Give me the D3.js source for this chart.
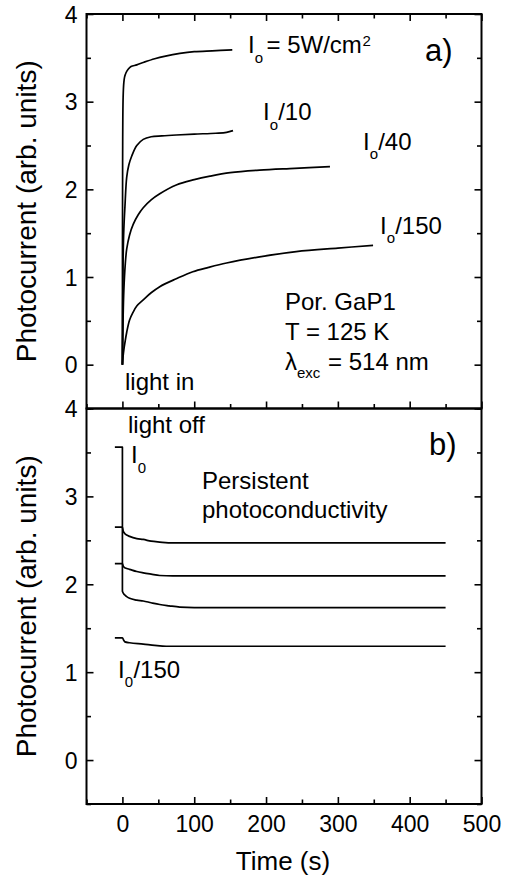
<!DOCTYPE html>
<html>
<head>
<meta charset="utf-8">
<script src="https://cdn.jsdelivr.net/npm/d3@7"></script>
<style>
  html, body { margin: 0; padding: 0; background: #fff; }
  svg { display: block; }
  text { font-family: "Liberation Sans", Arial, sans-serif; fill: #000; }
</style>
</head>
<body>
<svg id="chart" width="507" height="878"></svg>
<script>
// Tick values
const xTickValues = [0, 100, 200, 300, 400, 500];
const xMinorValues = [-50, 50, 150, 250, 350, 450];
const yTickValues = [0, 1, 2, 3, 4];
const yMinorValues = [-0.5, 0.5, 1.5, 2.5, 3.5];

// Panel a): photocurrent rise after the light is switched on (time in s)
const riseT_I0 = [0, 0.3, 1, 2, 3, 5, 8, 12, 20, 30, 45, 60, 80, 100, 125, 153];
const riseV_I0 = [0, 2.3, 3.05, 3.22, 3.28, 3.33, 3.37, 3.40, 3.42, 3.45, 3.49, 3.52, 3.55, 3.57, 3.58, 3.59];
const riseT_I10 = [0, 1, 2, 3.5, 6, 9, 13, 20, 29, 40, 55, 75, 100, 130, 145, 154];
const riseV_I10 = [0, 1.2, 1.55, 1.8, 2.14, 2.28, 2.38, 2.5, 2.57, 2.6, 2.61, 2.62, 2.63, 2.64, 2.65, 2.67];
const riseT_I40 = [0, 1, 2, 4, 6, 10, 15, 22, 29, 40, 52, 75, 100, 122, 150, 191, 240, 289];
const riseV_I40 = [0, 0.55, 0.85, 1.15, 1.32, 1.48, 1.6, 1.71, 1.79, 1.88, 1.95, 2.05, 2.11, 2.15, 2.19, 2.22, 2.24, 2.26];
const riseT_I150 = [0, 1, 2, 3.5, 6, 10, 15, 20, 29, 40, 52, 75, 98, 120, 145, 191, 242, 300, 349];
const riseV_I150 = [0, 0.1, 0.17, 0.25, 0.37, 0.51, 0.6, 0.67, 0.74, 0.82, 0.89, 0.98, 1.06, 1.11, 1.16, 1.23, 1.29, 1.33, 1.36];

// Panel b): decay after the light is switched off at t = 0
const decayT_I0 = [-10.5, 0, 0, 3, 6, 10, 20, 29, 40, 52, 65, 80, 100, 200, 300, 450];
const decayV_I0 = [3.56, 3.56, 1.92, 1.88, 1.86, 1.84, 1.82, 1.81, 1.79, 1.77, 1.755, 1.74, 1.735, 1.735, 1.735, 1.735];
const decayT_I10 = [-10.5, 0, 1, 3, 6, 10, 20, 29, 40, 52, 70, 100, 200, 450];
const decayV_I10 = [2.65, 2.65, 2.61, 2.58, 2.56, 2.545, 2.52, 2.51, 2.49, 2.48, 2.47, 2.47, 2.47, 2.47];
const decayT_I40 = [-10.5, 0, 1, 3, 6, 10, 20, 29, 40, 52, 70, 100, 450];
const decayV_I40 = [2.235, 2.235, 2.21, 2.19, 2.18, 2.17, 2.145, 2.13, 2.115, 2.10, 2.095, 2.095, 2.095];
const decayT_I150 = [-10.5, 0, 2, 3.5, 10, 29, 45, 61, 100, 450];
const decayV_I150 = [1.39, 1.39, 1.36, 1.345, 1.335, 1.32, 1.305, 1.295, 1.295, 1.295];

const zip = (t, v) => t.map((d, i) => ({ t: d, v: v[i] }));
const riseSeries = [zip(riseT_I0, riseV_I0), zip(riseT_I10, riseV_I10), zip(riseT_I40, riseV_I40), zip(riseT_I150, riseV_I150)];
const decaySeries = [zip(decayT_I0, decayV_I0), zip(decayT_I10, decayV_I10), zip(decayT_I40, decayV_I40), zip(decayT_I150, decayV_I150)];

const svg = d3.select("#chart");
const left = 86.5, right = 481.5;
const panels = [
  { top: 14, bottom: 408.5, series: riseSeries, first: true, curve: d3.curveCatmullRom.alpha(0.5) },
  { top: 408.5, bottom: 804, series: decaySeries, first: false, curve: d3.curveMonotoneX }
];

const x = d3.scaleLinear().domain([-50, 500]).range([left, right]);
const MAJ = 7, MIN = 4.5;
const tickFont = 23;

function styleAxis(g) {
  g.select(".domain").remove();
  g.selectAll(".tick line").attr("stroke", "#000").attr("stroke-width", 1.6);
  g.selectAll("text").attr("font-size", tickFont).attr("font-family", "Liberation Sans, Arial, sans-serif").attr("fill", "#000");
}

panels.forEach(p => {
  const y = d3.scaleLinear().domain([-0.5, 4]).range([p.bottom, p.top]);
  const g = svg.append("g");

  // left axis
  g.append("g").attr("transform", `translate(${left},0)`)
    .call(d3.axisLeft(y).tickValues(yTickValues).tickSize(-MAJ).tickPadding(9).tickFormat(d3.format("d")))
    .call(styleAxis)
    .call(a => a.selectAll("text").attr("dy", "0.35em"));
  g.append("g").attr("transform", `translate(${left},0)`)
    .call(d3.axisLeft(y).tickValues(yMinorValues).tickSize(-MIN).tickFormat(""))
    .call(styleAxis);
  // right axis
  g.append("g").attr("transform", `translate(${right},0)`)
    .call(d3.axisRight(y).tickValues(yTickValues).tickSize(-MAJ).tickFormat(""))
    .call(styleAxis);
  g.append("g").attr("transform", `translate(${right},0)`)
    .call(d3.axisRight(y).tickValues(yMinorValues).tickSize(-MIN).tickFormat(""))
    .call(styleAxis);

  // horizontal axes
  if (p.first) {
    g.append("g").attr("transform", `translate(0,${p.top})`)
      .call(d3.axisTop(x).tickValues(xTickValues).tickSize(-MAJ).tickFormat(""))
      .call(styleAxis);
    g.append("g").attr("transform", `translate(0,${p.top})`)
      .call(d3.axisTop(x).tickValues(xMinorValues).tickSize(-MIN).tickFormat(""))
      .call(styleAxis);
    g.append("g").attr("transform", `translate(0,${p.bottom})`)
      .call(d3.axisBottom(x).tickValues(xTickValues).tickSize(-MAJ).tickFormat(""))
      .call(styleAxis);
    g.append("g").attr("transform", `translate(0,${p.bottom})`)
      .call(d3.axisBottom(x).tickValues(xMinorValues).tickSize(-MIN).tickFormat(""))
      .call(styleAxis);
  } else {
    g.append("g").attr("transform", `translate(0,${p.bottom})`)
      .call(d3.axisBottom(x).tickValues(xTickValues).tickSize(-MAJ).tickPadding(12).tickFormat(d3.format("d")))
      .call(styleAxis);
    g.append("g").attr("transform", `translate(0,${p.bottom})`)
      .call(d3.axisBottom(x).tickValues(xMinorValues).tickSize(-MIN).tickFormat(""))
      .call(styleAxis);
  }

  // frame
  g.append("rect").attr("x", left).attr("y", p.top)
    .attr("width", right - left).attr("height", p.bottom - p.top)
    .attr("fill", "none").attr("stroke", "#000").attr("stroke-width", 2);

  // curves
  const line = d3.line().x(d => x(d.t)).y(d => y(d.v)).curve(p.curve);
  g.selectAll("path.curve").data(p.series).join("path")
    .attr("class", "curve")
    .attr("d", line)
    .attr("fill", "none").attr("stroke", "#000").attr("stroke-width", 1.7)
    .attr("stroke-linejoin", "round");

  // y-axis title
  svg.append("text")
    .attr("transform", `translate(36,${(p.top + p.bottom) / 2}) rotate(-90)`)
    .attr("text-anchor", "middle").attr("font-size", 28)
    .text("Photocurrent (arb. units)");
});

// x-axis title
svg.append("text").attr("x", 283).attr("y", 870)
  .attr("text-anchor", "middle").attr("font-size", 26).text("Time (s)");

// annotation helper: parts = [text, x, y, size]
function note(parts) {
  const t = svg.append("text");
  parts.forEach(([s, px, py, size]) => {
    t.append("tspan").attr("x", px).attr("y", py).attr("font-size", size).text(s);
  });
}

// panel a) annotations
note([["I", 248, 53, 24], ["o", 254.7, 62.5, 15], ["= 5W/cm", 266.5, 53, 24], ["2", 362.5, 46, 15]]);
note([["a)", 425, 61, 31]]);
note([["I", 263, 120, 24], ["o", 269.7, 129.5, 15], ["/10", 278.2, 120, 24]]);
note([["I", 363, 149.5, 24], ["o", 369.7, 159, 15], ["/40", 378.2, 149.5, 24]]);
note([["I", 380, 233.5, 24], ["o", 386.7, 243, 15], ["/150", 395.2, 233.5, 24]]);
note([["Por. GaP1", 285, 310, 24]]);
note([["T = 125 K", 285, 340, 24]]);
note([["λ", 285, 370, 24], ["exc", 297, 378, 15], ["= 514 nm", 328, 370, 24]]);
note([["light in", 125, 390, 24]]);

// panel b) annotations
note([["light off", 128, 433, 24]]);
note([["b)", 429, 455, 31]]);
note([["I", 131, 463, 24], ["0", 137.7, 473, 15]]);
note([["Persistent", 202, 489, 24]]);
note([["photoconductivity", 202, 518, 24]]);
note([["I", 118, 678, 24], ["0", 124.7, 687, 15], ["/150", 133.4, 678, 24]]);
</script>
</body>
</html>
